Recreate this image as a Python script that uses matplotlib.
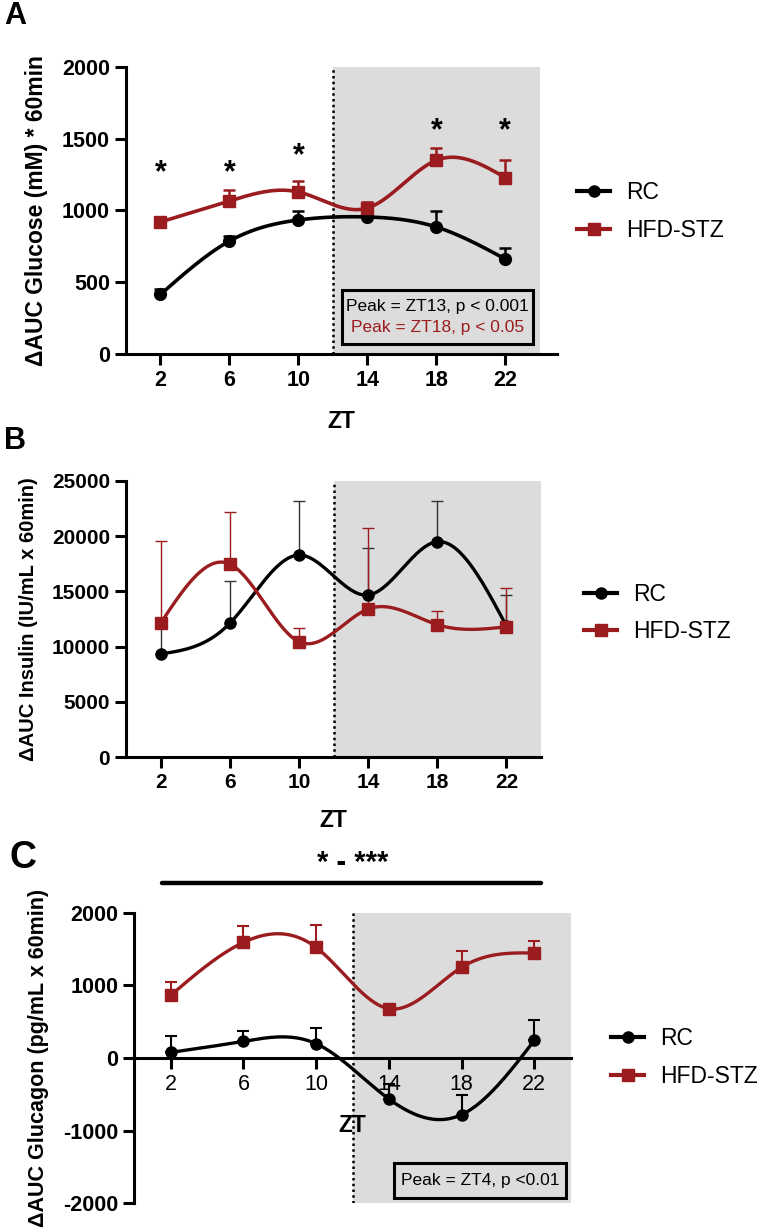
import numpy as np
import matplotlib
matplotlib.use('Agg')
import matplotlib.pyplot as plt
from matplotlib.lines import Line2D
from matplotlib.patches import Rectangle

plt.rcParams['font.family'] = ['Liberation Sans', 'DejaVu Sans']
plt.rcParams['axes.unicode_minus'] = False

RED = '#9B1C1E'
SHADE = '#DCDCDC'

zt = [2, 6, 10, 14, 18, 22]

# A - glucose
glucose_rc = [415, 787, 934, 955, 885, 662]
glucose_rc_err = [40, 35, 60, 20, 110, 80]
glucose_hfd = [920, 1066, 1129, 1017, 1350, 1229]
glucose_hfd_err = [35, 80, 80, 40, 87, 123]
glucose_star_x = [2, 6, 10, 18, 22]
glucose_star_y = [1260, 1260, 1380, 1549, 1549]

# B - insulin
insulin_rc = [9340, 12110, 18280, 14670, 19490, 11870]
insulin_rc_err = [2700, 3850, 4900, 4220, 3650, 2830]
insulin_hfd = [12110, 17470, 10450, 13400, 11990, 11800]
insulin_hfd_err = [7470, 4670, 1270, 7350, 1230, 3470]

# C - glucagon
glucagon_rc = [77, 229, 197, -564, -780, 243]
glucagon_rc_err = [220, 143, 220, 210, 265, 284]
glucagon_hfd = [862, 1591, 1522, 679, 1248, 1445]
glucagon_hfd_err = [180, 220, 310, 50, 225, 170]


def smooth(x, y, n=300):
    # natural cubic spline, like the prism curve
    x = np.asarray(x, float)
    y = np.asarray(y, float)
    m = len(x)
    h = np.diff(x)
    A = np.zeros((m, m))
    b = np.zeros(m)
    A[0, 0] = A[-1, -1] = 1
    for i in range(1, m - 1):
        A[i, i - 1] = h[i - 1]
        A[i, i] = 2 * (h[i - 1] + h[i])
        A[i, i + 1] = h[i]
        b[i] = 3 * ((y[i + 1] - y[i]) / h[i] - (y[i] - y[i - 1]) / h[i - 1])
    c = np.linalg.solve(A, b)
    xs = np.linspace(x[0], x[-1], n)
    idx = np.clip(np.searchsorted(x, xs) - 1, 0, m - 2)
    dx = xs - x[idx]
    bb = (y[idx + 1] - y[idx]) / h[idx] - h[idx] * (2 * c[idx] + c[idx + 1]) / 3
    d = (c[idx + 1] - c[idx]) / (3 * h[idx])
    ys = y[idx] + bb * dx + c[idx] * dx ** 2 + d * dx ** 3
    return xs, ys


def series(ax, y, err, color, marker, lw, elw, ms, ecolor=None):
    xs, ys = smooth(zt, y)
    ax.plot(xs, ys, color=color, lw=lw, zorder=3)
    ax.errorbar(zt, y, yerr=[np.zeros(len(y)), err], fmt='none',
                ecolor=ecolor or color, elinewidth=elw, capsize=4.5,
                capthick=elw, zorder=2)
    ax.plot(zt, y, ls='none', marker=marker, color=color, ms=ms, zorder=4)


def style(ax, xmax, ylo, yhi, yticks, labsize):
    ax.set_xlim(0, xmax)
    ax.set_ylim(ylo, yhi)
    ax.axvspan(12, 24, color=SHADE, lw=0, zorder=0)
    ax.axvline(12, color='k', ls=(0, (1, 1.3)), lw=1.8, zorder=1)
    ax.spines['top'].set_visible(False)
    ax.spines['right'].set_visible(False)
    for s in ['left', 'bottom']:
        ax.spines[s].set_linewidth(2.2)
    ax.set_xticks(zt)
    ax.set_yticks(yticks)
    ax.tick_params(width=2.2, length=8, labelsize=labsize)
    for lab in ax.get_xticklabels() + ax.get_yticklabels():
        lab.set_fontweight('bold')


def legend(fig, x, y):
    h = [Line2D([], [], color='k', lw=3, marker='o', ms=8),
         Line2D([], [], color=RED, lw=3, marker='s', ms=8)]
    fig.legend(h, ['RC', 'HFD-STZ'], loc='center left',
               bbox_to_anchor=(x / 764, 1 - y / 1229), frameon=False,
               fontsize=16.5, handlelength=1.45, handletextpad=0.7,
               labelspacing=0.65, borderpad=0, borderaxespad=0)


fig = plt.figure(figsize=(7.64, 12.29), dpi=100)

# ---- A
ax = fig.add_axes([126 / 764, 1 - 354 / 1229, 431 / 764, 287 / 1229])
style(ax, 25, 0, 2000, [0, 500, 1000, 1500, 2000], 15.5)
series(ax, glucose_rc, glucose_rc_err, 'k', 'o', 2.6, 1.8, 8.5)
series(ax, glucose_hfd, glucose_hfd_err, RED, 's', 2.6, 1.8, 8.5)
for sx, sy in zip(glucose_star_x, glucose_star_y):
    ax.text(sx, sy, '*', ha='center', va='center', fontsize=22,
            fontweight='bold')
ax.add_patch(Rectangle((12.55, 70), 11.05, 376, fc=SHADE, ec='k', lw=2.2, zorder=5))
ax.text(18.07, 328, 'Peak = ZT13, p < 0.001', ha='center', va='center',
        fontsize=12.5, zorder=6)
ax.text(18.07, 188, 'Peak = ZT18, p < 0.05', ha='center', va='center',
        fontsize=12.5, color=RED, zorder=6)
ax.set_xlabel('ZT', fontsize=16.5, fontweight='bold', labelpad=14)
ax.set_ylabel('\u0394AUC Glucose (mM) * 60min', fontsize=16.5,
              fontweight='bold', labelpad=10)
legend(fig, 577, 211.5)

# ---- B
ax = fig.add_axes([126 / 764, 1 - 757.3 / 1229, 415 / 764, 276.6 / 1229])
style(ax, 24, 0, 25000, [0, 5000, 10000, 15000, 20000, 25000], 15)
series(ax, insulin_rc, insulin_rc_err, 'k', 'o', 2.4, 1.0, 8, ecolor='#333333')
series(ax, insulin_hfd, insulin_hfd_err, RED, 's', 2.4, 1.0, 8)
ax.set_xlabel('ZT', fontsize=16.5, fontweight='bold', labelpad=12)
ax.set_ylabel('\u0394AUC Insulin (IU/mL x 60min)', fontsize=14.5,
              fontweight='bold', labelpad=10)
legend(fig, 584, 613)

# ---- C
ax = fig.add_axes([134.3 / 764, 1 - 1203.3 / 1229, 436.4 / 764, 290.6 / 1229])
style(ax, 24, -2000, 2000, [-2000, -1000, 0, 1000, 2000], 15.5)
ax.spines['bottom'].set_position(('data', 0))
series(ax, glucagon_rc, glucagon_rc_err, 'k', 'o', 2.4, 1.5, 8)
series(ax, glucagon_hfd, glucagon_hfd_err, RED, 's', 2.4, 1.5, 8)
ax.plot([1.52, 22.36], [2405, 2405], color='k', lw=3.2, clip_on=False,
        solid_capstyle='round')
ax.text(12, 2680, '* - ***', ha='center', va='center', fontsize=21,
        fontweight='bold')
ax.add_patch(Rectangle((14.29, -1923), 9.47, 482, fc=SHADE, ec='k', lw=2.2, zorder=5))
ax.text(19.02, -1682, 'Peak = ZT4, p <0.01', ha='center', va='center',
        fontsize=12.5, zorder=6)
ax.set_xlabel('ZT', fontsize=16.5, fontweight='bold', labelpad=14)
ax.set_ylabel('\u0394AUC Glucagon (pg/mL x 60min)', fontsize=15.5,
              fontweight='bold', labelpad=10)
legend(fig, 611, 1057.5)

fig.text(15 / 764, 1 - 16 / 1229, 'A', fontsize=22, fontweight='bold',
         ha='center', va='center')
fig.text(15 / 764, 1 - 441 / 1229, 'B', fontsize=22, fontweight='bold',
         ha='center', va='center')
fig.text(23 / 764, 1 - 858 / 1229, 'C', fontsize=27, fontweight='bold',
         ha='center', va='center')

fig.savefig('out.png', dpi=100)
